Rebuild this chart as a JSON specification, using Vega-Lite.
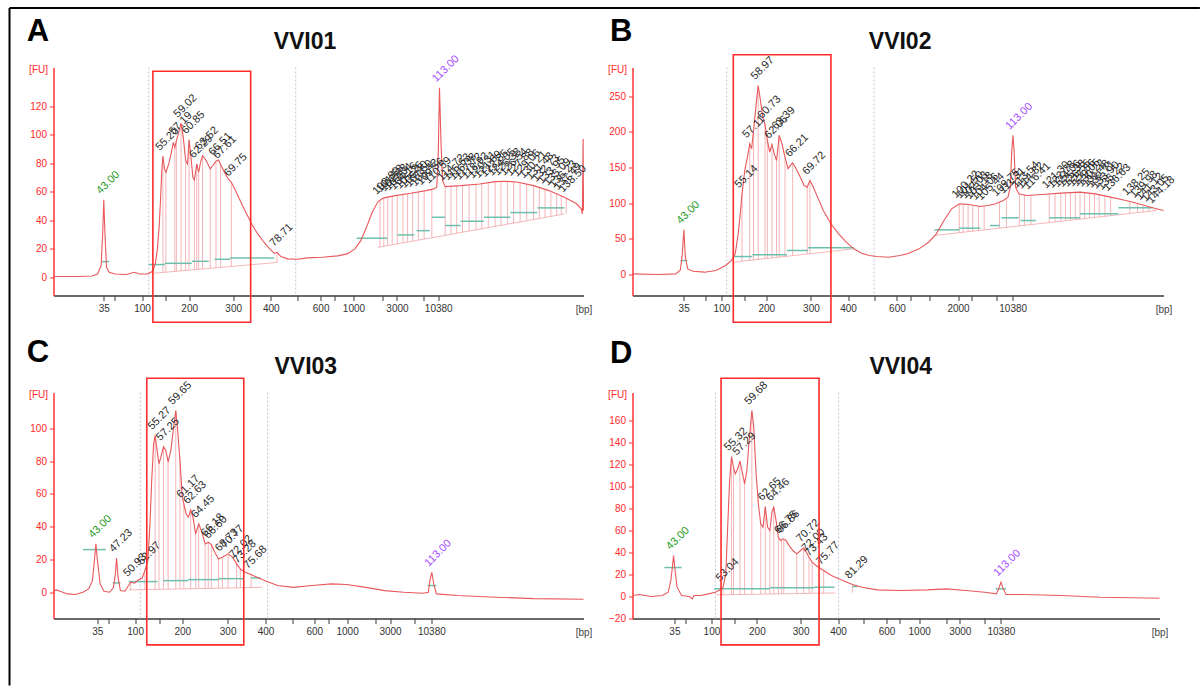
{
"$schema": "https://vega.github.io/schema/vega-lite/v6.json",
"background": "white",
"padding": {"left": 8.5, "top": 6.5, "right": 0, "bottom": 0},
"autosize": {"type": "pad"},
"bounds": "flush",
"columns": 2,
"spacing": {"row": 97, "column": 49},
"datasets": {
"A_tr": [{"u":0,"v":0.5},{"u":4.35,"v":0.5},{"u":7.25,"v":0.9},{"u":8.33,"v":2.3},{"u":8.99,"v":8.2},{"u":9.28,"v":30.4},{"u":9.49,"v":54.3},{"u":9.71,"v":30.4},{"u":10.0,"v":7.0},{"u":10.51,"v":3.5},{"u":11.59,"v":2.3},{"u":13.77,"v":1.9},{"u":15.22,"v":3.5},{"u":16.3,"v":2.3},{"u":17.75,"v":2.3},{"u":18.7,"v":4.2},{"u":19.2,"v":9.4},{"u":19.57,"v":18.7},{"u":19.93,"v":35.1},{"u":20.22,"v":56.1},{"u":20.43,"v":74.9},{"u":20.65,"v":84.9},{"u":20.94,"v":76.0},{"u":21.23,"v":73.7},{"u":21.74,"v":79.5},{"u":22.25,"v":87.7},{"u":22.61,"v":94.7},{"u":22.9,"v":91.2},{"u":23.19,"v":95.9},{"u":23.55,"v":100.6},{"u":24.06,"v":108.1},{"u":24.49,"v":98.2},{"u":24.93,"v":81.9},{"u":25.29,"v":79.5},{"u":25.58,"v":96.4},{"u":25.94,"v":84.2},{"u":26.3,"v":70.2},{"u":26.59,"v":68.3},{"u":27.03,"v":79.5},{"u":27.39,"v":73.7},{"u":27.75,"v":80.7},{"u":28.12,"v":85.4},{"u":28.62,"v":83.0},{"u":29.13,"v":79.5},{"u":29.57,"v":76.0},{"u":30.07,"v":78.4},{"u":30.65,"v":81.4},{"u":31.16,"v":82.3},{"u":31.52,"v":79.1},{"u":32.25,"v":73.7},{"u":32.97,"v":69.0},{"u":33.55,"v":66.7},{"u":34.2,"v":62.0},{"u":34.93,"v":56.1},{"u":35.65,"v":50.3},{"u":36.59,"v":43.3},{"u":37.54,"v":36.3},{"u":38.55,"v":30.4},{"u":39.71,"v":24.6},{"u":40.8,"v":19.9},{"u":41.67,"v":16.8},{"u":42.17,"v":17.5},{"u":42.9,"v":14.5},{"u":44.2,"v":12.9},{"u":46.01,"v":12.6},{"u":47.83,"v":13.6},{"u":50.72,"v":14.0},{"u":53.62,"v":15.0},{"u":55.43,"v":16.4},{"u":56.88,"v":19.9},{"u":57.97,"v":25.7},{"u":59.06,"v":35.1},{"u":60.14,"v":45.6},{"u":61.23,"v":53.1},{"u":62.32,"v":55.7},{"u":64.49,"v":57.3},{"u":67.39,"v":58.9},{"u":70.29,"v":60.8},{"u":71.74,"v":62.0},{"u":72.32,"v":63.2},{"u":72.61,"v":88.9},{"u":72.83,"v":132.9},{"u":73.12,"v":93.6},{"u":73.41,"v":67.8},{"u":73.91,"v":63.6},{"u":76.81,"v":64.3},{"u":80.43,"v":65.5},{"u":83.33,"v":67.1},{"u":85.51,"v":67.4},{"u":87.68,"v":66.7},{"u":90.58,"v":64.3},{"u":93.48,"v":60.8},{"u":96.38,"v":56.1},{"u":98.55,"v":51.9},{"u":99.57,"v":48.0},{"u":99.78,"v":44.4},{"u":99.93,"v":97.1},{"u":100,"v":46.8}],
"A_pk": [{"u":9.49,"v":54.3,"label":"43.00","k":"l"},{"u":20.65,"v":84.9,"label":"55.20","k":"p","b":3.4},{"u":21.2,"v":73.9,"label":"","k":"p","b":3.6},{"u":22.9,"v":91.2,"label":"","k":"p","b":4.1},{"u":23.19,"v":95.9,"label":"57.19","k":"p","b":4.2},{"u":24.06,"v":108.1,"label":"59.02","k":"p","b":4.5},{"u":24.93,"v":81.9,"label":"","k":"p","b":4.8},{"u":25.58,"v":96.4,"label":"60.85","k":"p","b":5.0},{"u":26.59,"v":68.3,"label":"","k":"p","b":5.3},{"u":27.03,"v":79.5,"label":"62.29","k":"p","b":5.5},{"u":27.39,"v":73.7,"label":"","k":"p","b":5.6},{"u":28.12,"v":85.4,"label":"63.52","k":"p","b":5.8},{"u":29.57,"v":76.0,"label":"","k":"p","b":6.3},{"u":30.65,"v":81.4,"label":"66.51","k":"p","b":6.7},{"u":31.52,"v":79.1,"label":"67.61","k":"p","b":6.9},{"u":33.55,"v":66.7,"label":"69.75","k":"p","b":7.6},{"u":42.17,"v":17.5,"label":"78.71","k":"p","b":10.4},{"u":72.83,"v":132.9,"label":"113.00","k":"h"},
{"u":61.59,"v":54,"label":"100.80","k":"p","b":21.3},{"u":62.32,"v":55.7,"label":"101.53","k":"p","b":21.7},{"u":63.04,"v":56.3,"label":"102.23","k":"p","b":22.2},{"u":63.91,"v":56.9,"label":"103.04","k":"p","b":22.8},{"u":64.86,"v":57.4,"label":"104.16","k":"p","b":23.4},{"u":65.94,"v":58.0,"label":"105.26","k":"p","b":24.2},{"u":66.81,"v":58.6,"label":"106.40","k":"p","b":24.7},{"u":67.75,"v":59.2,"label":"107.50","k":"p","b":25.4},{"u":68.84,"v":59.8,"label":"108.42","k":"p","b":26.1},{"u":69.93,"v":60.6,"label":"109.56","k":"p","b":26.8},{"u":71.38,"v":61.7,"label":"110.59","k":"p","b":27.8},{"u":73.91,"v":63.6,"label":"114.72","k":"p","b":29.5},{"u":75.0,"v":64.0,"label":"115.63","k":"p","b":30.2},{"u":76.09,"v":64.2,"label":"116.38","k":"p","b":30.9},{"u":77.17,"v":64.4,"label":"117.72","k":"p","b":31.6},{"u":78.41,"v":64.8,"label":"118.92","k":"p","b":32.4},{"u":79.71,"v":65.3,"label":"120.31","k":"p","b":33.3},{"u":80.8,"v":65.6,"label":"121.69","k":"p","b":34.0},{"u":82.03,"v":66.3,"label":"122.85","k":"p","b":34.9},{"u":83.33,"v":67.1,"label":"124.05","k":"p","b":35.7},{"u":84.42,"v":67.3,"label":"125.38","k":"p","b":36.4},{"u":85.65,"v":67.4,"label":"126.54","k":"p","b":37.3},{"u":86.81,"v":67.0,"label":"127.88","k":"p","b":38.0},{"u":88.04,"v":66.5,"label":"129.06","k":"p","b":38.8},{"u":89.28,"v":65.4,"label":"130.21","k":"p","b":39.7},{"u":90.58,"v":64.3,"label":"131.48","k":"p","b":40.5},{"u":91.67,"v":63.0,"label":"132.73","k":"p","b":41.3},{"u":92.75,"v":61.6,"label":"133.95","k":"p","b":42.0},{"u":93.84,"v":60.3,"label":"135.09","k":"p","b":42.7},{"u":94.93,"v":58.7,"label":"136.23","k":"p","b":43.4},{"u":95.8,"v":57.2,"label":"137.49","k":"p","b":44.0},{"u":96.74,"v":55.5,"label":"138.50","k":"p","b":44.6}],
"A_te": [{"u":9.06,"u2":10.5,"v":11},{"u":17.97,"u2":21.0,"v":8.9},{"u":21.0,"u2":26.1,"v":9.8},{"u":26.1,"u2":29.3,"v":11.2},{"u":30.4,"u2":33.3,"v":12.6},{"u":33.3,"u2":41.67,"v":13.6},{"u":57.2,"u2":63.0,"v":27.4},{"u":64.9,"u2":68.1,"v":29.7},{"u":68.5,"u2":71.0,"v":32.7},{"u":71.4,"u2":73.9,"v":42.1},{"u":73.9,"u2":76.8,"v":36.3},{"u":76.8,"u2":81.2,"v":39.3},{"u":81.2,"u2":86.2,"v":42.1},{"u":86.2,"u2":91.3,"v":45.4},{"u":91.3,"u2":96.4,"v":48.7}],
"B_tr": [{"u":0,"v":0.9},{"u":4.9,"v":0},{"u":8.15,"v":0.9},{"u":9.02,"v":6.5},{"u":9.38,"v":29},{"u":9.67,"v":62.6},{"u":9.96,"v":24.3},{"u":10.39,"v":7.9},{"u":11.4,"v":4.7},{"u":13.56,"v":3.3},{"u":15.73,"v":5.6},{"u":17.53,"v":12.6},{"u":18.61,"v":19.6},{"u":19.34,"v":29},{"u":19.91,"v":57},{"u":20.35,"v":89.8},{"u":20.63,"v":113},{"u":21.14,"v":145.9},{"u":21.65,"v":164.6},{"u":22.08,"v":183.3},{"u":22.44,"v":176.3},{"u":22.8,"v":202},{"u":23.23,"v":234.7},{"u":23.67,"v":265},{"u":24.1,"v":244},{"u":24.53,"v":220.7},{"u":24.96,"v":210.4},{"u":25.4,"v":188},{"u":25.83,"v":171.6},{"u":26.26,"v":182.3},{"u":26.7,"v":169.2},{"u":27.13,"v":159.9},{"u":27.63,"v":195},{"u":28.14,"v":183.3},{"u":28.72,"v":164.6},{"u":29.29,"v":148.2},{"u":29.73,"v":152.9},{"u":30.16,"v":156.6},{"u":30.66,"v":150.5},{"u":31.46,"v":138.9},{"u":32.32,"v":124.8},{"u":32.9,"v":122.5},{"u":33.41,"v":131.8},{"u":33.91,"v":124.8},{"u":34.85,"v":108.5},{"u":35.93,"v":89.8},{"u":37.37,"v":71.1},{"u":38.82,"v":57},{"u":40.26,"v":45.3},{"u":41.7,"v":36},{"u":43.15,"v":29.9},{"u":44.59,"v":26.6},{"u":46.03,"v":25.2},{"u":48.2,"v":24.3},{"u":50.36,"v":26.6},{"u":51.8,"v":29},{"u":53.97,"v":36},{"u":55.77,"v":45.3},{"u":57.22,"v":57},{"u":58.66,"v":75.7},{"u":60.1,"v":92.1},{"u":61.54,"v":99.1},{"u":63.35,"v":98.2},{"u":65.5,"v":95.4},{"u":66.96,"v":96.8},{"u":68.4,"v":99.1},{"u":69.84,"v":103.8},{"u":70.71,"v":108.5},{"u":71.14,"v":122.5},{"u":71.43,"v":173.9},{"u":71.65,"v":195},{"u":71.86,"v":173.9},{"u":72.15,"v":122.5},{"u":72.73,"v":113.1},{"u":74.17,"v":110.8},{"u":77.06,"v":112.2},{"u":80.66,"v":114.1},{"u":84.27,"v":115.5},{"u":87.16,"v":113.1},{"u":90.04,"v":108.5},{"u":92.93,"v":103.8},{"u":95.82,"v":98.2},{"u":97.98,"v":93.5},{"u":100,"v":89.8}],
"B_pk": [{"u":9.67,"v":62.6,"label":"43.00","k":"l"},{"u":20.63,"v":113,"label":"55.14","k":"p","b":18.7},{"u":22.08,"v":183.3,"label":"57.11","k":"p","b":19.9},{"u":22.8,"v":202,"label":"","k":"p","b":20.4},{"u":23.67,"v":265,"label":"58.97","k":"p","b":21.2},{"u":24.96,"v":210.4,"label":"60.73","k":"p","b":22.2},{"u":25.4,"v":188,"label":"","k":"p","b":22.6},{"u":26.26,"v":182.3,"label":"62.06","k":"p","b":23.3},{"u":27.13,"v":159.9,"label":"","k":"p","b":24.0},{"u":27.63,"v":195,"label":"63.39","k":"p","b":24.4},{"u":28.72,"v":164.6,"label":"","k":"p","b":25.3},{"u":30.16,"v":156.6,"label":"66.21","k":"p","b":26.5},{"u":32.9,"v":122.5,"label":"","k":"p","b":28.8},{"u":33.41,"v":131.8,"label":"69.72","k":"p","b":29.2},{"u":71.65,"v":195,"label":"113.00","k":"h"},
{"u":61.54,"v":99.1,"label":"100.22","k":"p","b":58.6},{"u":62.27,"v":98.6,"label":"101.50","k":"p","b":59.2},{"u":63.2,"v":98.2,"label":"102.03","k":"p","b":60.0},{"u":64.07,"v":97.5,"label":"103.18","k":"p","b":60.8},{"u":65.15,"v":96.2,"label":"104.06","k":"p","b":61.7},{"u":66.23,"v":96.0,"label":"105.44","k":"p","b":62.6},{"u":69.12,"v":101.5,"label":"109.75","k":"p","b":65.0},{"u":70.42,"v":105.5,"label":"111.31","k":"p","b":66.1},{"u":72.87,"v":113,"label":"113.54","k":"p","b":68.1},{"u":73.81,"v":112,"label":"114.82","k":"p","b":68.9},{"u":75.04,"v":111.2,"label":"116.41","k":"p","b":70.0},{"u":78.5,"v":112.6,"label":"121.30","k":"p","b":72.9},{"u":79.58,"v":113.2,"label":"122.78","k":"p","b":73.8},{"u":80.66,"v":114.1,"label":"124.06","k":"p","b":74.7},{"u":81.53,"v":114.5,"label":"125.38","k":"p","b":75.4},{"u":82.47,"v":114.9,"label":"126.55","k":"p","b":76.2},{"u":83.4,"v":115.2,"label":"127.86","k":"p","b":77.0},{"u":84.27,"v":115.5,"label":"129.05","k":"p","b":77.7},{"u":85.14,"v":115.0,"label":"130.22","k":"p","b":78.4},{"u":86.08,"v":114.4,"label":"131.48","k":"p","b":79.2},{"u":87.01,"v":113.4,"label":"132.71","k":"p","b":80.0},{"u":87.88,"v":112,"label":"133.90","k":"p","b":80.7},{"u":88.96,"v":110.2,"label":"135.22","k":"p","b":81.6},{"u":90.04,"v":108.5,"label":"136.63","k":"p","b":82.5},{"u":93.65,"v":102.5,"label":"138.25","k":"p","b":85.6},{"u":95.1,"v":99,"label":"139.98","k":"p","b":86.8},{"u":96.18,"v":96.3,"label":"141.12","k":"p","b":87.7},{"u":97.26,"v":94,"label":"143.05","k":"p","b":88.6},{"u":98.34,"v":91.5,"label":"144.18","k":"p","b":89.5}],
"B_te": [{"u":9.02,"u2":10.32,"v":19.6},{"u":18.98,"u2":22.58,"v":25.2},{"u":22.58,"u2":29.08,"v":27.6},{"u":29.08,"u2":33.04,"v":33.7},{"u":33.04,"u2":41.7,"v":37.4},{"u":56.85,"u2":61.54,"v":62.6},{"u":61.54,"u2":65.51,"v":65.0},{"u":67.32,"u2":69.12,"v":68.7},{"u":69.48,"u2":72.73,"v":79.5},{"u":73.09,"u2":75.97,"v":75.7},{"u":78.5,"u2":84.27,"v":79.5},{"u":84.27,"u2":91.49,"v":85.1},{"u":91.49,"u2":97.98,"v":93.5}],
"C_tr": [{"u":0,"v":0.6},{"u":0.5,"v":1.4},{"u":1.23,"v":0.6},{"u":2.67,"v":-1.0},{"u":4.11,"v":-1.4},{"u":5.55,"v":0},{"u":6.63,"v":2.0},{"u":7.35,"v":7.1},{"u":7.71,"v":19.3},{"u":8.0,"v":29.5},{"u":8.29,"v":19.3},{"u":8.8,"v":5.1},{"u":9.52,"v":0.6},{"u":10.6,"v":0},{"u":11.32,"v":3.0},{"u":11.68,"v":11.2},{"u":11.9,"v":20.9},{"u":12.18,"v":9.1},{"u":12.62,"v":1.0},{"u":13.48,"v":0.6},{"u":14.56,"v":6.1},{"u":15.28,"v":5.5},{"u":16.0,"v":7.5},{"u":16.73,"v":8.7},{"u":17.23,"v":13.2},{"u":17.81,"v":19.3},{"u":18.17,"v":39.6},{"u":18.53,"v":68.1},{"u":18.89,"v":90.4},{"u":19.18,"v":95.5},{"u":19.54,"v":86.4},{"u":19.9,"v":78.3},{"u":20.33,"v":83.3},{"u":20.76,"v":88.8},{"u":21.2,"v":86.4},{"u":21.63,"v":79.3},{"u":22.13,"v":86.4},{"u":22.71,"v":101.6},{"u":23.07,"v":110.8},{"u":23.43,"v":98.6},{"u":23.86,"v":80.3},{"u":24.3,"v":57.9},{"u":24.59,"v":53.9},{"u":25.02,"v":47.8},{"u":25.45,"v":45.7},{"u":25.88,"v":50.2},{"u":26.32,"v":45.7},{"u":26.82,"v":35.6},{"u":27.4,"v":41.7},{"u":27.9,"v":37.6},{"u":28.62,"v":29.5},{"u":29.2,"v":30.5},{"u":29.78,"v":29.1},{"u":30.43,"v":24.4},{"u":31.15,"v":20.3},{"u":31.87,"v":21.3},{"u":32.95,"v":23.4},{"u":33.81,"v":21.3},{"u":34.54,"v":17.3},{"u":35.26,"v":14.2},{"u":36.19,"v":12.2},{"u":37.27,"v":10.8},{"u":38.72,"v":8.7},{"u":40.16,"v":6.7},{"u":42.32,"v":4.1},{"u":45.2,"v":3.0},{"u":48.81,"v":4.1},{"u":52.42,"v":5.1},{"u":55.3,"v":4.7},{"u":58.9,"v":3.0},{"u":62.51,"v":1.0},{"u":66.11,"v":0},{"u":69.72,"v":-0.6},{"u":70.73,"v":0},{"u":71.02,"v":7.1},{"u":71.38,"v":12.2},{"u":71.74,"v":5.1},{"u":72.25,"v":-1.0},{"u":76.21,"v":-2.0},{"u":83.42,"v":-3.0},{"u":90.63,"v":-3.9},{"u":100,"v":-4.3}],
"C_pk": [{"u":8.0,"v":29.5,"label":"43.00","k":"l"},{"u":11.9,"v":20.9,"label":"47.23","k":"p"},{"u":14.56,"v":6.1,"label":"50.93","k":"p","b":1.4},{"u":17.23,"v":13.2,"label":"52.97","k":"p","b":1.6},{"u":19.18,"v":95.5,"label":"55.27","k":"p","b":1.7},{"u":19.9,"v":78.3,"label":"","k":"p","b":1.8},{"u":20.76,"v":88.8,"label":"57.25","k":"p","b":1.8},{"u":21.63,"v":79.3,"label":"","k":"p","b":1.9},{"u":23.07,"v":110.8,"label":"59.65","k":"p","b":2.0},{"u":23.86,"v":80.3,"label":"","k":"p","b":2.0},{"u":24.59,"v":53.9,"label":"61.17","k":"p","b":2.1},{"u":25.88,"v":50.2,"label":"62.63","k":"p","b":2.1},{"u":26.82,"v":35.6,"label":"","k":"p","b":2.2},{"u":27.4,"v":41.7,"label":"64.45","k":"p","b":2.2},{"u":28.62,"v":29.5,"label":"","k":"p","b":2.3},{"u":29.2,"v":30.5,"label":"66.18","k":"p","b":2.4},{"u":29.78,"v":29.1,"label":"66.60","k":"p","b":2.4},{"u":31.15,"v":20.3,"label":"","k":"p","b":2.5},{"u":31.87,"v":21.3,"label":"68.73","k":"p","b":2.5},{"u":32.95,"v":23.4,"label":"70.77","k":"p","b":2.6},{"u":34.54,"v":17.3,"label":"72.02","k":"p","b":2.7},{"u":35.26,"v":14.2,"label":"73.28","k":"p","b":2.7},{"u":37.27,"v":10.8,"label":"75.68","k":"p","b":2.9},{"u":71.38,"v":12.2,"label":"113.00","k":"h"}],
"C_te": [{"u":5.55,"u2":9.88,"v":26.0},{"u":11.18,"u2":12.62,"v":5.7},{"u":14.2,"u2":19.61,"v":6.5},{"u":20.69,"u2":25.38,"v":7.1},{"u":25.38,"u2":31.15,"v":7.7},{"u":31.15,"u2":35.83,"v":8.3},{"u":37.27,"u2":39.08,"v":8.7},{"u":70.58,"u2":72.25,"v":4.1}],
"D_tr": [{"u":0,"v":0.6},{"u":1.31,"v":1.5},{"u":3.5,"v":-0.3},{"u":5.68,"v":0.6},{"u":6.77,"v":3.6},{"u":7.28,"v":14.3},{"u":7.57,"v":26.4},{"u":7.79,"v":37.0},{"u":8.01,"v":26.4},{"u":8.45,"v":8.2},{"u":9.32,"v":0.6},{"u":10.78,"v":-0.3},{"u":11.36,"v":-2.4},{"u":11.65,"v":0.6},{"u":12.96,"v":0.6},{"u":14.42,"v":2.1},{"u":15.73,"v":3.6},{"u":16.61,"v":5.8},{"u":17.19,"v":8.2},{"u":17.7,"v":20.3},{"u":18.06,"v":62.8},{"u":18.43,"v":105.3},{"u":18.79,"v":127.2},{"u":19.16,"v":117.5},{"u":19.52,"v":111.4},{"u":19.96,"v":116},{"u":20.39,"v":123},{"u":20.83,"v":112.9},{"u":21.27,"v":102.3},{"u":21.7,"v":114.5},{"u":22.14,"v":141.8},{"u":22.65,"v":169.1},{"u":23.01,"v":153.9},{"u":23.45,"v":111.4},{"u":23.89,"v":84.1},{"u":24.33,"v":65.9},{"u":24.76,"v":62.8},{"u":25.2,"v":81.7},{"u":25.64,"v":62.8},{"u":26.07,"v":59.8},{"u":26.51,"v":78.0},{"u":26.8,"v":81.1},{"u":27.24,"v":68.9},{"u":27.68,"v":53.7},{"u":28.11,"v":50.7},{"u":28.55,"v":52.2},{"u":29.13,"v":50.7},{"u":29.72,"v":46.1},{"u":30.44,"v":41.6},{"u":31.17,"v":38.6},{"u":31.9,"v":41.6},{"u":32.48,"v":44.0},{"u":32.99,"v":40.1},{"u":33.5,"v":35.5},{"u":34.09,"v":31.0},{"u":34.81,"v":27.9},{"u":36.27,"v":23.4},{"u":37.73,"v":18.8},{"u":39.55,"v":14.9},{"u":41.73,"v":10.6},{"u":43.55,"v":8.2},{"u":46.47,"v":5.8},{"u":50.84,"v":5.2},{"u":55.94,"v":5.8},{"u":59.58,"v":6.7},{"u":63.22,"v":5.2},{"u":66.86,"v":3.6},{"u":69.05,"v":2.1},{"u":69.48,"v":6.7},{"u":69.92,"v":12.8},{"u":70.36,"v":6.7},{"u":70.87,"v":1.5},{"u":74.14,"v":1.5},{"u":81.43,"v":0.6},{"u":88.71,"v":-0.9},{"u":100,"v":-1.8}],
"D_pk": [{"u":7.79,"v":37.0,"label":"43.00","k":"l"},{"u":17.19,"v":8.2,"label":"53.04","k":"p","b":1.3},{"u":18.79,"v":127.2,"label":"55.32","k":"p","b":1.4},{"u":19.16,"v":117.5,"label":"","k":"p","b":1.5},{"u":20.39,"v":123,"label":"57.29","k":"p","b":1.6},{"u":21.27,"v":102.3,"label":"","k":"p","b":1.6},{"u":22.65,"v":169.1,"label":"59.68","k":"p","b":1.7},{"u":24.33,"v":65.9,"label":"","k":"p","b":1.9},{"u":25.2,"v":81.7,"label":"62.65","k":"p","b":1.9},{"u":26.07,"v":59.8,"label":"","k":"p","b":2.0},{"u":26.8,"v":81.1,"label":"64.46","k":"p","b":2.1},{"u":27.68,"v":53.7,"label":"","k":"p","b":2.1},{"u":28.3,"v":51.5,"label":"66.75","k":"p","b":2.2},{"u":28.7,"v":52,"label":"66.86","k":"p","b":2.2},{"u":31.17,"v":38.6,"label":"","k":"p","b":2.4},{"u":32.48,"v":44.0,"label":"70.72","k":"p","b":2.5},{"u":33.5,"v":35.5,"label":"72.00","k":"p","b":2.6},{"u":34.09,"v":31.0,"label":"73.43","k":"p","b":2.7},{"u":36.27,"v":23.4,"label":"75.77","k":"p","b":2.8},{"u":41.73,"v":10.6,"label":"81.29","k":"p","b":3.2},{"u":69.92,"v":12.8,"label":"113.00","k":"h"}],
"D_te": [{"u":6.05,"u2":9.32,"v":26.1},{"u":15.51,"u2":26.07,"v":6.7},{"u":26.07,"u2":34.45,"v":7.6},{"u":34.45,"u2":38.31,"v":8.2},{"u":41.73,"u2":42.68,"v":8.8},{"u":68.9,"u2":70.87,"v":6.7}]
},
"concat": [
{
"width": 530, "height": 228,
"layer": [
{"data": {"values": [{"u": 17.97}, {"u": 45.7}]}, "mark": {"type": "rule", "color": "#c4c4dc", "strokeDash": [2, 2]}, "encoding": {"x": {"field": "u", "type": "quantitative", "scale": {"domain": [0, 100], "nice": false, "zero": false}}, "y": {"datum": 147.2, "type": "quantitative", "scale": {"domain": [-12.8, 147.2], "nice": false, "zero": false}}, "y2": {"datum": -12.8}}},
{"data": {"values": [{"u": 18.84, "u2": 42.2, "v": 2.8, "v2": 10.4}, {"u": 61.2, "u2": 96.4, "v": 21, "v2": 44.4}]}, "mark": {"type": "rule", "color": "#f4b8ba"}, "encoding": {"x": {"field": "u", "type": "quantitative", "scale": {"domain": [0, 100], "nice": false, "zero": false}}, "y": {"field": "v", "type": "quantitative", "scale": {"domain": [-12.8, 147.2], "nice": false, "zero": false}}, "x2": {"field": "u2"}, "y2": {"field": "v2"}}},
{"data": {"name": "A_pk"}, "transform": [{"filter": "isValid(datum.b)"}], "mark": {"type": "rule", "color": "#f3a3a6", "strokeWidth": 0.8}, "encoding": {"x": {"field": "u", "type": "quantitative", "scale": {"domain": [0, 100], "nice": false, "zero": false}}, "y": {"field": "v", "type": "quantitative", "scale": {"domain": [-12.8, 147.2], "nice": false, "zero": false}}, "y2": {"field": "b"}}},
{"data": {"name": "A_te"}, "mark": {"type": "rule", "color": "#6fbfae", "strokeWidth": 1.5}, "encoding": {"x": {"field": "u", "type": "quantitative", "scale": {"domain": [0, 100], "nice": false, "zero": false}}, "y": {"field": "v", "type": "quantitative", "scale": {"domain": [-12.8, 147.2], "nice": false, "zero": false}}, "x2": {"field": "u2"}}},
{"data": {"name": "A_tr"}, "mark": {"type": "line", "color": "#e8585c", "strokeWidth": 1.1}, "encoding": {
"x": {"field": "u", "type": "quantitative", "scale": {"domain": [0, 100], "nice": false, "zero": false}, "axis": {"title": "[bp]", "titleX": 530, "tickCount": 100, "labelOverlap": false, "labelFlush": false, "labelBound": false, "values": [9.48, 11.6, 16.7, 21.2, 25.6, 33.9, 41, 46.1, 50.4, 53, 56.6, 62, 64.8, 69.8, 72.6], "labelExpr": "datum.value==9.48?'35':datum.value==16.7?'100':datum.value==25.6?'200':datum.value==33.9?'300':datum.value==41?'400':datum.value==50.4?'600':datum.value==56.6?'1000':datum.value==64.8?'3000':datum.value==72.6?'10380':''"}},
"y": {"field": "v", "type": "quantitative", "scale": {"domain": [-12.8, 147.2], "nice": false, "zero": false}, "axis": {"title": "[FU]", "tickCount": 100, "labelOverlap": false, "labelFlush": false, "labelBound": false, "values": [0, 20, 40, 60, 80, 100, 120]}}}},
{"data": {"name": "A_pk"}, "mark": {"type": "text", "angle": 315, "align": "left", "baseline": "alphabetic", "dx": 1.5, "dy": -6, "fontSize": 11}, "encoding": {"x": {"field": "u", "type": "quantitative", "scale": {"domain": [0, 100], "nice": false, "zero": false}}, "y": {"field": "v", "type": "quantitative", "scale": {"domain": [-12.8, 147.2], "nice": false, "zero": false}}, "text": {"field": "label"}, "color": {"field": "k", "type": "nominal", "scale": {"domain": ["p", "l", "h"], "range": ["#2a2a2a", "#1f9a1f", "#a64dff"]}, "legend": null}}},
{"data": {"values": [{"u": 18.75, "u2": 37.2, "v": 144.6, "v2": -31.6}]}, "mark": {"type": "rect", "filled": false, "color": "#ff2b2b", "strokeWidth": 1.6}, "encoding": {"x": {"field": "u", "type": "quantitative", "scale": {"domain": [0, 100], "nice": false, "zero": false}}, "y": {"field": "v", "type": "quantitative", "scale": {"domain": [-12.8, 147.2], "nice": false, "zero": false}}, "x2": {"field": "u2"}, "y2": {"field": "v2"}}},
{"data": {"values": [{"t": "A"}]}, "mark": {"type": "text", "align": "left", "baseline": "alphabetic", "fontSize": 31, "fontWeight": "bold", "color": "#000000"}, "encoding": {"x": {"datum": -5.05, "type": "quantitative"}, "y": {"datum": 165.6, "type": "quantitative"}, "text": {"field": "t"}}},
{"data": {"values": [{"t": "VVI01"}]}, "mark": {"type": "text", "align": "center", "baseline": "alphabetic", "fontSize": 23, "fontWeight": "bold", "color": "#111111"}, "encoding": {"x": {"datum": 47.45, "type": "quantitative"}, "y": {"datum": 160.3, "type": "quantitative"}, "text": {"field": "t"}}},
{"data": {"values": [{"side": "top"}]}, "mark": {"type": "rule", "color": "#000000", "strokeWidth": 2}, "encoding": {"x": {"datum": -8.3, "type": "quantitative"}, "x2": {"datum": 216.3}, "y": {"datum": 188.9, "type": "quantitative"}}},
{"data": {"values": [{"side": "left"}]}, "mark": {"type": "rule", "color": "#000000", "strokeWidth": 2}, "encoding": {"x": {"datum": -8.3, "type": "quantitative"}, "y": {"datum": 188.9, "type": "quantitative"}, "y2": {"datum": -286.5}}}
]
},
{
"width": 531, "height": 228,
"layer": [
{"data": {"values": [{"u": 17.75}, {"u": 45.5}]}, "mark": {"type": "rule", "color": "#c4c4dc", "strokeDash": [2, 2]}, "encoding": {"x": {"field": "u", "type": "quantitative", "scale": {"domain": [0, 100], "nice": false, "zero": false}}, "y": {"datum": 290.2, "type": "quantitative", "scale": {"domain": [-29.4, 290.2], "nice": false, "zero": false}}, "y2": {"datum": -29.4}}},
{"data": {"values": [{"u": 18.98, "u2": 41.7, "v": 17.3, "v2": 36}, {"u": 56.85, "u2": 98.7, "v": 54.7, "v2": 89.8}]}, "mark": {"type": "rule", "color": "#f4b8ba"}, "encoding": {"x": {"field": "u", "type": "quantitative", "scale": {"domain": [0, 100], "nice": false, "zero": false}}, "y": {"field": "v", "type": "quantitative", "scale": {"domain": [-29.4, 290.2], "nice": false, "zero": false}}, "x2": {"field": "u2"}, "y2": {"field": "v2"}}},
{"data": {"name": "B_pk"}, "transform": [{"filter": "isValid(datum.b)"}], "mark": {"type": "rule", "color": "#f3a3a6", "strokeWidth": 0.8}, "encoding": {"x": {"field": "u", "type": "quantitative", "scale": {"domain": [0, 100], "nice": false, "zero": false}}, "y": {"field": "v", "type": "quantitative", "scale": {"domain": [-29.4, 290.2], "nice": false, "zero": false}}, "y2": {"field": "b"}}},
{"data": {"name": "B_te"}, "mark": {"type": "rule", "color": "#6fbfae", "strokeWidth": 1.5}, "encoding": {"x": {"field": "u", "type": "quantitative", "scale": {"domain": [0, 100], "nice": false, "zero": false}}, "y": {"field": "v", "type": "quantitative", "scale": {"domain": [-29.4, 290.2], "nice": false, "zero": false}}, "x2": {"field": "u2"}}},
{"data": {"name": "B_tr"}, "mark": {"type": "line", "color": "#e8585c", "strokeWidth": 1.1}, "encoding": {
"x": {"field": "u", "type": "quantitative", "scale": {"domain": [0, 100], "nice": false, "zero": false}, "axis": {"title": "[bp]", "titleX": 531, "tickCount": 100, "labelOverlap": false, "labelFlush": false, "labelBound": false, "values": [9.63, 13.7, 16.75, 21, 25.2, 33.6, 40.6, 45.6, 49.8, 52.3, 55.9, 61.3, 63.9, 68.6, 71.6], "labelExpr": "datum.value==9.63?'35':datum.value==16.75?'100':datum.value==25.2?'200':datum.value==33.6?'300':datum.value==40.6?'400':datum.value==49.8?'600':datum.value==61.3?'2000':datum.value==71.6?'10380':''"}},
"y": {"field": "v", "type": "quantitative", "scale": {"domain": [-29.4, 290.2], "nice": false, "zero": false}, "axis": {"title": "[FU]", "tickCount": 100, "labelOverlap": false, "labelFlush": false, "labelBound": false, "values": [0, 50, 100, 150, 200, 250]}}}},
{"data": {"name": "B_pk"}, "mark": {"type": "text", "angle": 315, "align": "left", "baseline": "alphabetic", "dx": 1.5, "dy": -6, "fontSize": 11}, "encoding": {"x": {"field": "u", "type": "quantitative", "scale": {"domain": [0, 100], "nice": false, "zero": false}}, "y": {"field": "v", "type": "quantitative", "scale": {"domain": [-29.4, 290.2], "nice": false, "zero": false}}, "text": {"field": "label"}, "color": {"field": "k", "type": "nominal", "scale": {"domain": ["p", "l", "h"], "range": ["#2a2a2a", "#1f9a1f", "#a64dff"]}, "legend": null}}},
{"data": {"values": [{"u": 18.98, "u2": 37.37, "v": 308, "v2": -66.9}]}, "mark": {"type": "rect", "filled": false, "color": "#ff2b2b", "strokeWidth": 1.6}, "encoding": {"x": {"field": "u", "type": "quantitative", "scale": {"domain": [0, 100], "nice": false, "zero": false}}, "y": {"field": "v", "type": "quantitative", "scale": {"domain": [-29.4, 290.2], "nice": false, "zero": false}}, "x2": {"field": "u2"}, "y2": {"field": "v2"}}},
{"data": {"values": [{"t": "B"}]}, "mark": {"type": "text", "align": "left", "baseline": "alphabetic", "fontSize": 31, "fontWeight": "bold", "color": "#000000"}, "encoding": {"x": {"datum": -4.22, "type": "quantitative"}, "y": {"datum": 327.1, "type": "quantitative"}, "text": {"field": "t"}}},
{"data": {"values": [{"t": "VVI02"}]}, "mark": {"type": "text", "align": "center", "baseline": "alphabetic", "fontSize": 23, "fontWeight": "bold", "color": "#111111"}, "encoding": {"x": {"datum": 50.4, "type": "quantitative"}, "y": {"datum": 316.5, "type": "quantitative"}, "text": {"field": "t"}}}
]
},
{
"width": 530, "height": 226,
"layer": [
{"data": {"values": [{"u": 16.37}, {"u": 40.4}]}, "mark": {"type": "rule", "color": "#c4c4dc", "strokeDash": [2, 2]}, "encoding": {"x": {"field": "u", "type": "quantitative", "scale": {"domain": [0, 100], "nice": false, "zero": false}}, "y": {"datum": 121.8, "type": "quantitative", "scale": {"domain": [-16, 121.8], "nice": false, "zero": false}}, "y2": {"datum": -16}}},
{"data": {"values": [{"u": 14.2, "u2": 39.4, "v": 1.4, "v2": 3.0}]}, "mark": {"type": "rule", "color": "#f4b8ba"}, "encoding": {"x": {"field": "u", "type": "quantitative", "scale": {"domain": [0, 100], "nice": false, "zero": false}}, "y": {"field": "v", "type": "quantitative", "scale": {"domain": [-16, 121.8], "nice": false, "zero": false}}, "x2": {"field": "u2"}, "y2": {"field": "v2"}}},
{"data": {"name": "C_pk"}, "transform": [{"filter": "isValid(datum.b)"}], "mark": {"type": "rule", "color": "#f3a3a6", "strokeWidth": 0.8}, "encoding": {"x": {"field": "u", "type": "quantitative", "scale": {"domain": [0, 100], "nice": false, "zero": false}}, "y": {"field": "v", "type": "quantitative", "scale": {"domain": [-16, 121.8], "nice": false, "zero": false}}, "y2": {"field": "b"}}},
{"data": {"name": "C_te"}, "mark": {"type": "rule", "color": "#6fbfae", "strokeWidth": 1.5}, "encoding": {"x": {"field": "u", "type": "quantitative", "scale": {"domain": [0, 100], "nice": false, "zero": false}}, "y": {"field": "v", "type": "quantitative", "scale": {"domain": [-16, 121.8], "nice": false, "zero": false}}, "x2": {"field": "u2"}}},
{"data": {"name": "C_tr"}, "mark": {"type": "line", "color": "#e8585c", "strokeWidth": 1.1}, "encoding": {
"x": {"field": "u", "type": "quantitative", "scale": {"domain": [0, 100], "nice": false, "zero": false}, "axis": {"title": "[bp]", "titleX": 530, "tickCount": 100, "labelOverlap": false, "labelFlush": false, "labelBound": false, "values": [8.25, 10.3, 15.4, 20, 24.3, 32.85, 40, 45.05, 49.2, 51.8, 55.4, 60.8, 63.5, 68.2, 71.3], "labelExpr": "datum.value==8.25?'35':datum.value==15.4?'100':datum.value==24.3?'200':datum.value==32.85?'300':datum.value==40?'400':datum.value==49.2?'600':datum.value==55.4?'1000':datum.value==63.5?'3000':datum.value==71.3?'10380':''"}},
"y": {"field": "v", "type": "quantitative", "scale": {"domain": [-16, 121.8], "nice": false, "zero": false}, "axis": {"title": "[FU]", "tickCount": 100, "labelOverlap": false, "labelFlush": false, "labelBound": false, "values": [0, 20, 40, 60, 80, 100]}}}},
{"data": {"name": "C_pk"}, "mark": {"type": "text", "angle": 315, "align": "left", "baseline": "alphabetic", "dx": 1.5, "dy": -6, "fontSize": 11}, "encoding": {"x": {"field": "u", "type": "quantitative", "scale": {"domain": [0, 100], "nice": false, "zero": false}}, "y": {"field": "v", "type": "quantitative", "scale": {"domain": [-16, 121.8], "nice": false, "zero": false}}, "text": {"field": "label"}, "color": {"field": "k", "type": "nominal", "scale": {"domain": ["p", "l", "h"], "range": ["#2a2a2a", "#1f9a1f", "#a64dff"]}, "legend": null}}},
{"data": {"values": [{"u": 17.6, "u2": 35.9, "v": 130.5, "v2": -32.1}]}, "mark": {"type": "rect", "filled": false, "color": "#ff2b2b", "strokeWidth": 1.6}, "encoding": {"x": {"field": "u", "type": "quantitative", "scale": {"domain": [0, 100], "nice": false, "zero": false}}, "y": {"field": "v", "type": "quantitative", "scale": {"domain": [-16, 121.8], "nice": false, "zero": false}}, "x2": {"field": "u2"}, "y2": {"field": "v2"}}},
{"data": {"values": [{"t": "C"}]}, "mark": {"type": "text", "align": "left", "baseline": "alphabetic", "fontSize": 31, "fontWeight": "bold", "color": "#000000"}, "encoding": {"x": {"datum": -5.04, "type": "quantitative"}, "y": {"datum": 140.1, "type": "quantitative"}, "text": {"field": "t"}}},
{"data": {"values": [{"t": "VVI03"}]}, "mark": {"type": "text", "align": "center", "baseline": "alphabetic", "fontSize": 23, "fontWeight": "bold", "color": "#111111"}, "encoding": {"x": {"datum": 47.6, "type": "quantitative"}, "y": {"datum": 133.2, "type": "quantitative"}, "text": {"field": "t"}}}
]
},
{
"width": 527, "height": 226,
"layer": [
{"data": {"values": [{"u": 15.73}, {"u": 39.1}]}, "mark": {"type": "rule", "color": "#c4c4dc", "strokeDash": [2, 2]}, "encoding": {"x": {"field": "u", "type": "quantitative", "scale": {"domain": [0, 100], "nice": false, "zero": false}}, "y": {"datum": 185.5, "type": "quantitative", "scale": {"domain": [-20.3, 185.5], "nice": false, "zero": false}}, "y2": {"datum": -20.3}}},
{"data": {"values": [{"u": 15.9, "u2": 38.5, "v": 1.2, "v2": 3.0}]}, "mark": {"type": "rule", "color": "#f4b8ba"}, "encoding": {"x": {"field": "u", "type": "quantitative", "scale": {"domain": [0, 100], "nice": false, "zero": false}}, "y": {"field": "v", "type": "quantitative", "scale": {"domain": [-20.3, 185.5], "nice": false, "zero": false}}, "x2": {"field": "u2"}, "y2": {"field": "v2"}}},
{"data": {"name": "D_pk"}, "transform": [{"filter": "isValid(datum.b)"}], "mark": {"type": "rule", "color": "#f3a3a6", "strokeWidth": 0.8}, "encoding": {"x": {"field": "u", "type": "quantitative", "scale": {"domain": [0, 100], "nice": false, "zero": false}}, "y": {"field": "v", "type": "quantitative", "scale": {"domain": [-20.3, 185.5], "nice": false, "zero": false}}, "y2": {"field": "b"}}},
{"data": {"name": "D_te"}, "mark": {"type": "rule", "color": "#6fbfae", "strokeWidth": 1.5}, "encoding": {"x": {"field": "u", "type": "quantitative", "scale": {"domain": [0, 100], "nice": false, "zero": false}}, "y": {"field": "v", "type": "quantitative", "scale": {"domain": [-20.3, 185.5], "nice": false, "zero": false}}, "x2": {"field": "u2"}}},
{"data": {"name": "D_tr"}, "mark": {"type": "line", "color": "#e8585c", "strokeWidth": 1.1}, "encoding": {
"x": {"field": "u", "type": "quantitative", "scale": {"domain": [0, 100], "nice": false, "zero": false}, "axis": {"title": "[bp]", "titleX": 527, "tickCount": 100, "labelOverlap": false, "labelFlush": false, "labelBound": false, "values": [7.95, 10, 14.98, 19.3, 23.6, 31.9, 39, 43.9, 48.2, 50.6, 54.4, 59.6, 62.1, 66.7, 69.9], "labelExpr": "datum.value==7.95?'35':datum.value==14.98?'100':datum.value==23.6?'200':datum.value==31.9?'300':datum.value==39?'400':datum.value==48.2?'600':datum.value==54.4?'1000':datum.value==62.1?'3000':datum.value==69.9?'10380':''"}},
"y": {"field": "v", "type": "quantitative", "scale": {"domain": [-20.3, 185.5], "nice": false, "zero": false}, "axis": {"title": "[FU]", "tickCount": 100, "labelOverlap": false, "labelFlush": false, "labelBound": false, "values": [-20, 0, 20, 40, 60, 80, 100, 120, 140, 160]}}}},
{"data": {"name": "D_pk"}, "mark": {"type": "text", "angle": 315, "align": "left", "baseline": "alphabetic", "dx": 1.5, "dy": -6, "fontSize": 11}, "encoding": {"x": {"field": "u", "type": "quantitative", "scale": {"domain": [0, 100], "nice": false, "zero": false}}, "y": {"field": "v", "type": "quantitative", "scale": {"domain": [-20.3, 185.5], "nice": false, "zero": false}}, "text": {"field": "label"}, "color": {"field": "k", "type": "nominal", "scale": {"domain": ["p", "l", "h"], "range": ["#2a2a2a", "#1f9a1f", "#a64dff"]}, "legend": null}}},
{"data": {"values": [{"u": 16.8, "u2": 35.4, "v": 198.5, "v2": -44.3}]}, "mark": {"type": "rect", "filled": false, "color": "#ff2b2b", "strokeWidth": 1.6}, "encoding": {"x": {"field": "u", "type": "quantitative", "scale": {"domain": [0, 100], "nice": false, "zero": false}}, "y": {"field": "v", "type": "quantitative", "scale": {"domain": [-20.3, 185.5], "nice": false, "zero": false}}, "x2": {"field": "u2"}, "y2": {"field": "v2"}}},
{"data": {"values": [{"t": "D"}]}, "mark": {"type": "text", "align": "left", "baseline": "alphabetic", "fontSize": 31, "fontWeight": "bold", "color": "#000000"}, "encoding": {"x": {"datum": -4.25, "type": "quantitative"}, "y": {"datum": 212.8, "type": "quantitative"}, "text": {"field": "t"}}},
{"data": {"values": [{"t": "VVI04"}]}, "mark": {"type": "text", "align": "center", "baseline": "alphabetic", "fontSize": 23, "fontWeight": "bold", "color": "#111111"}, "encoding": {"x": {"datum": 50.9, "type": "quantitative"}, "y": {"datum": 202.6, "type": "quantitative"}, "text": {"field": "t"}}}
]
}
],
"config": {
"view": {"stroke": null},
"font": "Liberation Sans",
"axis": {"grid": false, "labelFont": "Liberation Sans", "labelFontSize": 10, "titleFont": "Liberation Sans", "titleFontSize": 10, "titleFontWeight": "normal", "labelOverlap": false, "labelFlush": false, "domainWidth": 1.5, "titleAngle": 0, "titleBaseline": "middle"},
"axisX": {"domainColor": "#3a3a3a", "tickColor": "#3a3a3a", "labelColor": "#333333", "titleColor": "#444444", "tickSize": 5, "labelPadding": 3, "titleAlign": "center", "titleY": 14},
"axisY": {"domainColor": "#ff3333", "tickColor": "#ff3333", "labelColor": "#ff2a2a", "titleColor": "#ff2a2a", "tickSize": 4, "labelPadding": 3, "titleAlign": "right", "titleX": -6, "titleY": 2}
}
}
